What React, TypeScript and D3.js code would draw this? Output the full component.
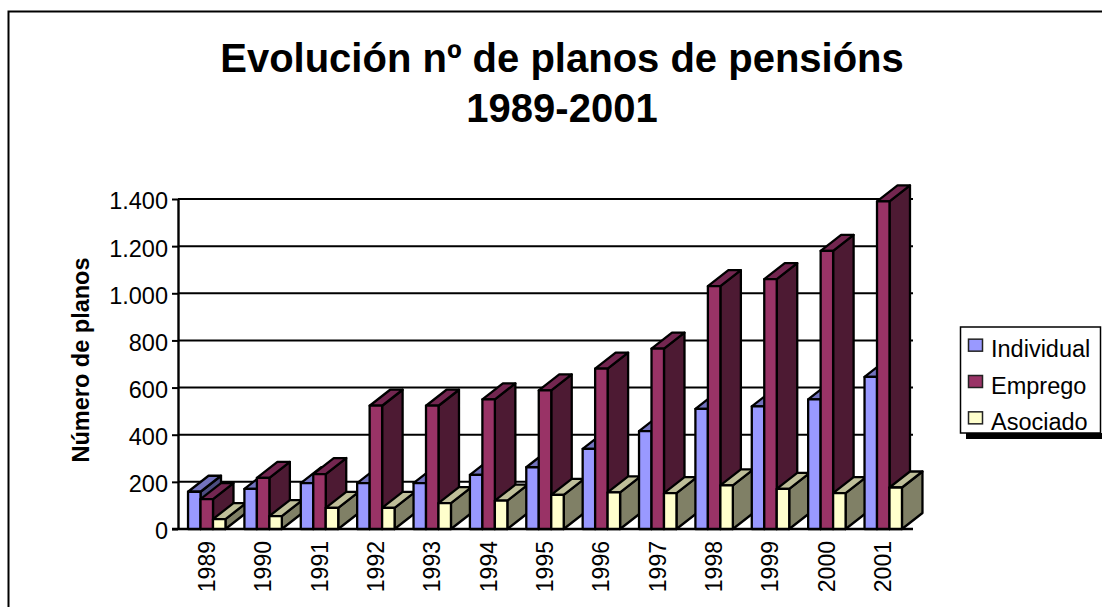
import React, { useEffect, useRef } from 'react';
import * as d3 from 'd3';

const WIDTH = 1102;
const HEIGHT = 607;

const MARGIN = { top: 199, right: 190, bottom: 78, left: 178 };

const DEPTH_X = 20.5;
const DEPTH_Y = 16;

const FONT = '"Liberation Sans", Arial, sans-serif';

const years = ['1989', '1990', '1991', '1992', '1993', '1994', '1995', '1996', '1997', '1998', '1999', '2000', '2001'];
const individual = [158, 170, 195, 195, 195, 230, 262, 340, 415, 510, 520, 550, 645];
const emprego = [127, 217, 233, 523, 523, 550, 588, 680, 765, 1030, 1060, 1180, 1390];
const asociado = [42, 55, 90, 90, 110, 120, 145, 155, 152, 185, 170, 152, 176];
const yTicks = [0, 200, 400, 600, 800, 1000, 1200, 1400];

const seriesNames = ['Individual', 'Emprego', 'Asociado'];
const seriesValues = [individual, emprego, asociado];
const frontColors = ['#9999ff', '#993366', '#ffffcc'];
const topColors = ['#7373bf', '#732650', '#bfbf99'];
const sideColors = ['#4d4d80', '#4d1a33', '#808066'];

const locale = d3.formatLocale({ decimal: ',', thousands: '.', grouping: [3], currency: ['', ' €'] });

export default function App() {
  const ref = useRef<SVGSVGElement>(null);

  useEffect(() => {
    const svg = d3.select(ref.current);
    svg.selectAll('*').remove();
    svg.style('font-family', FONT);

    const bottom = HEIGHT - MARGIN.bottom;
    const right = WIDTH - MARGIN.right;

    const x0 = d3.scaleBand().domain(years).range([MARGIN.left, right]).paddingInner(0.336).paddingOuter(0.178);
    const x1 = d3.scaleBand().domain(seriesNames).range([0, x0.bandwidth()]);
    const y = d3.scaleLinear().domain([0, 1400]).range([bottom, MARGIN.top]);

    // outer chart frame, runs off the page on the right and bottom
    svg.append('path')
      .attr('d', `M8.5,${HEIGHT + 5}V11.5H${WIDTH + 5}`)
      .attr('fill', 'none')
      .attr('stroke', '#000')
      .attr('stroke-width', 2);

    svg.append('text')
      .attr('x', 562)
      .attr('y', 72)
      .attr('text-anchor', 'middle')
      .attr('font-size', 40)
      .attr('font-weight', 'bold')
      .text('Evolución nº de planos de pensións');

    svg.append('text')
      .attr('x', 562)
      .attr('y', 122)
      .attr('text-anchor', 'middle')
      .attr('font-size', 40)
      .attr('font-weight', 'bold')
      .text('1989-2001');

    svg.append('text')
      .attr('transform', 'translate(89, 360) rotate(-90)')
      .attr('text-anchor', 'middle')
      .attr('font-size', 23.5)
      .attr('font-weight', 'bold')
      .text('Número de planos');

    const yAxis = svg.append('g')
      .attr('transform', `translate(${MARGIN.left}, 0)`)
      .call(d3.axisLeft(y)
        .tickValues(yTicks)
        .tickSize(6)
        .tickSizeOuter(0)
        .tickPadding(4)
        .tickFormat(d => locale.format(',')(d as number))
      );
    yAxis.selectAll('text').attr('font-size', 23.5).attr('font-family', FONT).attr('fill', '#000').attr('dy', '0.42em');
    yAxis.selectAll('line').attr('stroke', '#000').attr('stroke-width', 2);
    yAxis.select('.domain').attr('stroke', '#000').attr('stroke-width', 2.4);

    svg.append('g')
      .selectAll('line')
      .data(yTicks.slice(1))
      .enter()
      .append('line')
      .attr('x1', MARGIN.left)
      .attr('x2', right + 1)
      .attr('y1', d => y(d))
      .attr('y2', d => y(d))
      .attr('stroke', '#000')
      .attr('stroke-width', 2);

    svg.append('line')
      .attr('x1', MARGIN.left - 6)
      .attr('x2', right + 1)
      .attr('y1', bottom)
      .attr('y2', bottom)
      .attr('stroke', '#000')
      .attr('stroke-width', 2.4);

    // bars, left to right so nearer faces cover the sides of the previous bar
    years.forEach((year, i) => {
      const g = svg.append('g');
      seriesNames.forEach((name, s) => {
        const left = (x0(year) as number) + (x1(name) as number);
        const w = x1.bandwidth();
        const top = y(seriesValues[s][i]);
        const bar = g.append('g').attr('stroke', '#000').attr('stroke-width', 2.3).attr('stroke-linejoin', 'round');

        bar.append('path')
          .attr('d', `M${left + w},${top}l${DEPTH_X},${-DEPTH_Y}V${bottom - DEPTH_Y}L${left + w},${bottom}Z`)
          .attr('fill', sideColors[s]);
        bar.append('path')
          .attr('d', `M${left},${top}l${DEPTH_X},${-DEPTH_Y}h${w}l${-DEPTH_X},${DEPTH_Y}Z`)
          .attr('fill', topColors[s]);
        bar.append('rect')
          .attr('x', left)
          .attr('y', top)
          .attr('width', w)
          .attr('height', bottom - top)
          .attr('fill', frontColors[s]);
      });
    });

    svg.append('g')
      .selectAll('text')
      .data(years)
      .enter()
      .append('text')
      .attr('transform', d => `translate(${(x0(d) as number) + x0.bandwidth() / 2 + 8}, 541) rotate(-90)`)
      .attr('text-anchor', 'end')
      .attr('font-size', 23)
      .text(d => d);

    // legend
    svg.append('rect')
      .attr('x', 966)
      .attr('y', 433)
      .attr('width', 137)
      .attr('height', 6)
      .attr('fill', '#000');

    svg.append('rect')
      .attr('x', 960.5)
      .attr('y', 327)
      .attr('width', 140)
      .attr('height', 106)
      .attr('fill', '#fff')
      .attr('stroke', '#000')
      .attr('stroke-width', 1.5);

    const legendRow = d3.scaleBand().domain(seriesNames).range([327, 436]);

    seriesNames.forEach((name, s) => {
      const cy = (legendRow(name) as number) + legendRow.bandwidth() / 2;
      svg.append('rect')
        .attr('x', 968.5)
        .attr('y', cy - 6)
        .attr('width', 14)
        .attr('height', 12)
        .attr('fill', frontColors[s])
        .attr('stroke', '#222')
        .attr('stroke-width', 1.5);
      svg.append('text')
        .attr('x', 991)
        .attr('y', cy + 12)
        .attr('font-size', 23.5)
        .text(name);
    });
  }, []);

  return (
    <svg
      ref={ref}
      width={WIDTH}
      height={HEIGHT}
      viewBox={`0 0 ${WIDTH} ${HEIGHT}`}
      style={{ position: 'absolute', left: 0, top: 0, background: '#fff' }}
    ></svg>
  );
}
